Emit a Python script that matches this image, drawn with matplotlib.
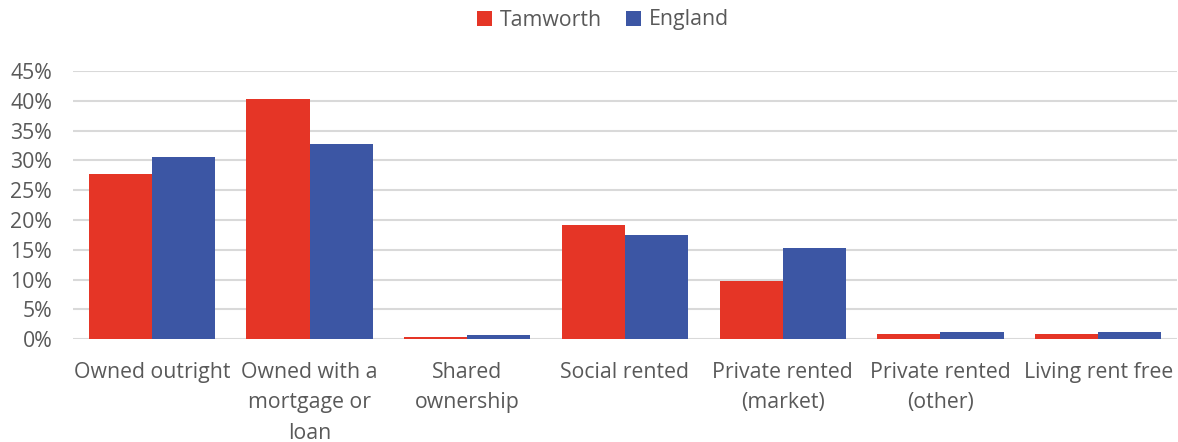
import numpy as np
import matplotlib.pyplot as plt
from matplotlib.ticker import MultipleLocator, FuncFormatter

categories = ["Owned outright", "Owned with a\nmortgage or\nloan", "Shared\nownership",
              "Social rented", "Private rented\n(market)", "Private rented\n(other)",
              "Living rent free"]
tamworth = [27.8, 40.3, 0.4, 19.2, 9.8, 0.9, 0.85]
england = [30.5, 32.7, 0.7, 17.5, 15.3, 1.3, 1.2]

red = "#E53526"
blue = "#3C56A4"
grey = "#595959"

plt.rcParams['font.family'] = ['Open Sans', 'DejaVu Sans']

fig = plt.figure(figsize=(11.78, 4.42), dpi=100)
ax = fig.add_axes([73 / 1178, 1 - 339.3 / 442, 1104 / 1178, (339.3 - 71) / 442])

x = np.arange(len(categories))
w = 0.4
ax.bar(x - w / 2, tamworth, w, color=red, label="Tamworth", zorder=3)
ax.bar(x + w / 2, england, w, color=blue, label="England", zorder=3)

ax.set_xlim(-0.5, len(categories) - 0.5)
ax.set_ylim(0, 45)
ax.yaxis.set_major_locator(MultipleLocator(5))
ax.yaxis.set_major_formatter(FuncFormatter(lambda v, p: f"{v:.0f}%"))
ax.grid(axis='y', color="#D9D9D9", linewidth=1.5, zorder=0)
for s in ax.spines.values():
    s.set_visible(False)
ax.tick_params(axis='both', length=0, labelsize=15.3, colors=grey)
ax.tick_params(axis='y', pad=15)
ax.tick_params(axis='x', pad=16)
ax.set_xticks(x)
ax.set_xticklabels(categories, linespacing=1.6)

fig.legend(loc='center', bbox_to_anchor=(603 / 1178, 1 - 20 / 442), ncol=2,
           frameon=False, fontsize=15.3, labelcolor=grey, handlelength=0.7,
           handleheight=0.7, handletextpad=0.4, columnspacing=1.1)

fig.savefig("out.png", dpi=100)
